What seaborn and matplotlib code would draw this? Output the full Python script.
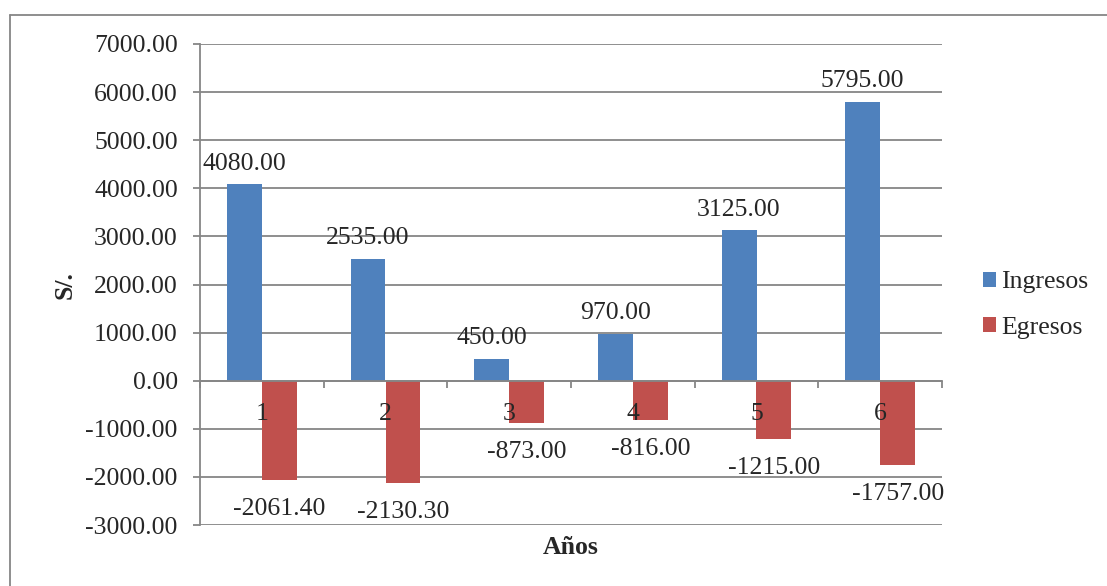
import pandas as pd
import matplotlib
matplotlib.use("Agg")
import matplotlib.pyplot as plt
import seaborn as sns
from matplotlib.lines import Line2D

# Datos
anios = ["1", "2", "3", "4", "5", "6"]
ingresos = [4080.00, 2535.00, 450.00, 970.00, 3125.00, 5795.00]
egresos = [-2061.40, -2130.30, -873.00, -816.00, -1215.00, -1757.00]
series = ["Ingresos", "Egresos"]
colores = ["#4F81BD", "#C0504D"]
y_ticks = list(range(-3000, 7001, 1000))

df = pd.DataFrame({
    "Año": anios * 2,
    "Monto": ingresos + egresos,
    "Serie": [series[0]] * len(anios) + [series[1]] * len(anios),
})

sns.set_style("white")
plt.rcParams["font.family"] = ["Liberation Serif", "DejaVu Serif"]
fs = 18.5
grey = "#868686"

fig = plt.figure(figsize=(11.07, 5.86), dpi=100)
ax = fig.add_axes([200 / 1107, 1 - 525 / 586, 742 / 1107, 481 / 586])

sns.barplot(data=df, x="Año", y="Monto", hue="Serie", order=anios,
            hue_order=series, palette=colores, saturation=1, width=0.566,
            gap=0, edgecolor="none", linewidth=0, legend=False, ax=ax)

# etiquetas de datos
ax.bar_label(ax.containers[0], fmt="%.2f", padding=7, fontsize=fs)
ax.bar_label(ax.containers[1], fmt="%.2f", padding=13, fontsize=fs)

ax.set_ylim(-3000, 7000)
ax.set_xlim(-0.5, len(anios) - 0.5)
ax.set_yticks(y_ticks)
ax.set_yticklabels(["%.2f" % v for v in y_ticks], fontsize=fs)
ax.yaxis.grid(True, color=grey, linewidth=1.3)
ax.set_axisbelow(True)
ax.tick_params(axis="y", direction="out", length=5, width=1.3, color=grey, pad=11, left=True)

# eje x en cero
ax.spines["top"].set_visible(False)
ax.spines["right"].set_visible(False)
ax.spines["bottom"].set_position(("data", 0))
for s in ["left", "bottom"]:
    ax.spines[s].set_color(grey)
    ax.spines[s].set_linewidth(1.3)
ax.set_xticks(range(len(anios)))
ax.set_xticklabels([])
ax.set_xticks([i - 0.5 for i in range(len(anios) + 1)], minor=True)
ax.tick_params(axis="x", which="major", length=0)
ax.tick_params(axis="x", which="minor", direction="out", length=5, width=1.3, color=grey, bottom=True)
ax.set_xlabel("")
ax.set_ylabel("")

# etiquetas de categoria encima de las barras
for i, a in enumerate(anios):
    ax.annotate(a, xy=(i, 0), xytext=(0, -16), textcoords="offset points",
                ha="center", va="top", fontsize=fs, zorder=5)

fig.text(571 / 1107, 1 - 548 / 586, "Años", ha="center", va="center", fontsize=fs, fontweight="bold")
fig.text(65 / 1107, 1 - 285 / 586, "S/.", ha="center", va="center", fontsize=fs, fontweight="bold", rotation=90)

ax.legend(ax.containers, series, loc="center left", bbox_to_anchor=(960 / 1107, 1 - 305 / 586),
          bbox_transform=fig.transFigure, frameon=False, fontsize=fs, handlelength=0.5,
          handleheight=0.5, handletextpad=0.2, labelspacing=0.9)

# borde del grafico (solo izquierda y arriba visibles)
x0, y0 = 9.5 / 1107, 1 - 14.5 / 586
fig.add_artist(Line2D([x0, x0], [0, y0], transform=fig.transFigure, color=grey, linewidth=1.3))
fig.add_artist(Line2D([x0, 1], [y0, y0], transform=fig.transFigure, color=grey, linewidth=1.3))

fig.savefig("out.png", dpi=100)
